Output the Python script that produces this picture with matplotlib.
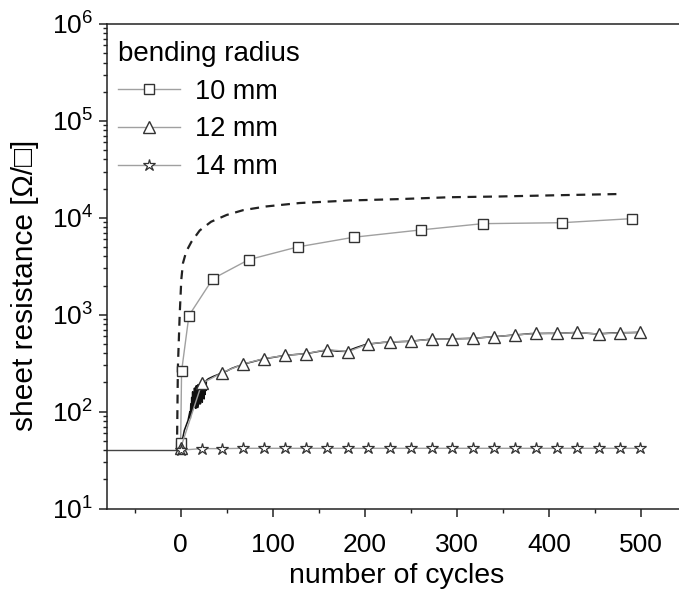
import matplotlib
matplotlib.use("Agg")
import matplotlib.pyplot as plt
from matplotlib.ticker import FixedLocator, LogLocator, NullFormatter

plt.rcParams["font.family"] = ["Liberation Sans", "DejaVu Sans"]
plt.rcParams["mathtext.fontset"] = "custom"
plt.rcParams["mathtext.rm"] = "Liberation Sans"
plt.rcParams["mathtext.it"] = "Liberation Sans"

# 10 mm bending radius (squares)
sq_x = [0, 1, 9, 35, 74, 127, 188, 261, 328, 414, 490]
sq_y = [47, 260, 980, 2350, 3700, 5000, 6300, 7500, 8700, 8900, 9800]

# 12 mm bending radius (triangle markers on a noisy measured trace)
tri_x = [0, 23, 45, 68, 91, 113, 136, 159, 182, 204, 227, 250,
         273, 295, 318, 340, 363, 386, 409, 431, 454, 477, 499]
tri_y = [42, 195, 252, 310, 353, 380, 396, 437, 416, 500, 525, 531,
         560, 561, 570, 593, 617, 641, 641, 656, 631, 650, 656]
trace_x = [0, 2, 4, 6, 8, 9, 10, 10.5, 11, 11.5, 12, 12.5, 13, 13.5, 14,
           14.5, 15, 15.5, 16, 16.5, 17, 17.5, 18, 18.5, 19, 19.5, 20, 20.5,
           21, 21.5, 22, 22.5, 23, 23.5, 24, 24.5, 25, 25.5, 26, 26.5, 27,
           27.5, 28, 30, 33, 36, 40, 45, 50, 55, 60, 65, 70, 80, 90,
           100, 110, 120, 130, 140, 150, 160, 170, 180, 190, 200, 210, 220,
           230, 240, 250, 260, 270, 280, 290, 300, 310, 320, 330, 340, 350,
           360, 370, 380, 390, 400, 410, 420, 430, 440, 450, 460, 470, 480,
           490, 500]
trace_y = [42, 52, 64, 72, 81, 90, 100, 85, 120, 95, 140, 100, 160, 105, 150,
           110, 175, 112, 165, 108, 185, 115, 170, 110, 190, 118, 180, 125,
           195, 120, 185, 130, 200, 125, 190, 140, 205, 135, 195, 150, 205,
           165, 210, 218, 225, 232, 240, 252, 262, 278, 290, 300, 312,
           330, 350, 362, 376, 385, 392, 402, 418, 432, 420, 418, 455, 490,
           505, 518, 522, 528, 532, 545, 556, 560, 562, 565, 568, 572, 583,
           592, 603, 615, 625, 638, 640, 642, 641, 650, 655, 645, 635, 640,
           648, 652, 654, 658]

# 14 mm bending radius (stars)
st_x = [0, 23, 45, 68, 91, 113, 136, 159, 182, 204, 227, 250,
        273, 295, 318, 340, 363, 386, 409, 431, 454, 477, 499]
st_y = [40, 41.5, 41.5, 41.8, 41.8, 41.8, 41.8, 41.8, 41.8, 41.8, 41.8, 41.8,
        41.8, 41.8, 41.8, 41.8, 41.8, 41.8, 41.8, 41.8, 41.8, 41.8, 41.8]

# initial resistance before bending starts
base_x = [-80, 0]
base_y = [40, 40]

# dashed guide curve
dash_x = [-4, -3, -1, 0.7, 2.5, 6, 11.6, 20.7, 33, 50, 68, 93, 129, 184,
          238, 292, 347, 410, 477]
dash_y = [40, 288, 1020, 2300, 3400, 4470, 5630, 7400, 9100, 10700, 12000,
          13100, 14200, 15100, 15600, 16300, 16600, 17100, 17600]

fig = plt.figure(figsize=(6.79, 5.89), dpi=100)
ax = fig.add_axes([107 / 679, 80.5 / 589, 580 / 679, 484.5 / 589])

ax.plot(base_x, base_y, color="#444444", lw=1.0)
ax.plot(dash_x, dash_y, color="#222222", lw=1.6, ls=(0, (4, 3)))
ax.plot(trace_x, trace_y, color="#111111", lw=1.1)
ax.plot(sq_x, sq_y, color="#a0a0a0", lw=1.0, marker="s", ms=6.8,
        mfc="white", mec="#333333", mew=1.0, label="10 mm")
ax.plot(tri_x, tri_y, color="#a0a0a0", lw=1.0, marker="^", ms=8.2,
        mfc="white", mec="#333333", mew=1.0, label="12 mm")
ax.plot(st_x, st_y, color="#a0a0a0", lw=1.0, marker="*", ms=9.0,
        mfc="white", mec="#333333", mew=0.9, label="14 mm")

ax.set_yscale("log")
ax.set_xlim(-80, 550)
ax.set_ylim(10, 1e6)
ax.xaxis.set_major_locator(FixedLocator([0, 100, 200, 300, 400, 500]))
ax.xaxis.set_minor_locator(FixedLocator([-50, 50, 150, 250, 350, 450]))
ax.yaxis.set_major_locator(LogLocator(base=10, numticks=10))
ax.yaxis.set_minor_locator(LogLocator(base=10, subs=range(2, 10), numticks=10))
ax.yaxis.set_minor_formatter(NullFormatter())

for s in ["left", "bottom", "top", "right"]:
    ax.spines[s].set_linewidth(1.1)
    ax.spines[s].set_color("#222222")
ax.tick_params(which="major", direction="out", length=6, width=1.1,
               labelsize=19, color="#222222", pad=4)
ax.tick_params(which="minor", direction="out", length=3, width=1.0,
               color="#222222")
ax.tick_params(axis="x", which="major", pad=12)

ax.set_xlabel("number of cycles", fontsize=20.5, labelpad=4)
ax.set_ylabel("sheet resistance [Ω/□]", fontsize=21.5, labelpad=4)
ax.yaxis.set_label_coords(-0.118, 0.46)

leg = ax.legend(title="bending radius", loc="upper left", frameon=False,
                bbox_to_anchor=(0.012, 0.974), borderaxespad=0,
                fontsize=19.5, title_fontsize=20, handlelength=2.3,
                handletextpad=0.55, labelspacing=0.44,
                borderpad=0.15, alignment="left")

fig.savefig("out.png", dpi=100)
